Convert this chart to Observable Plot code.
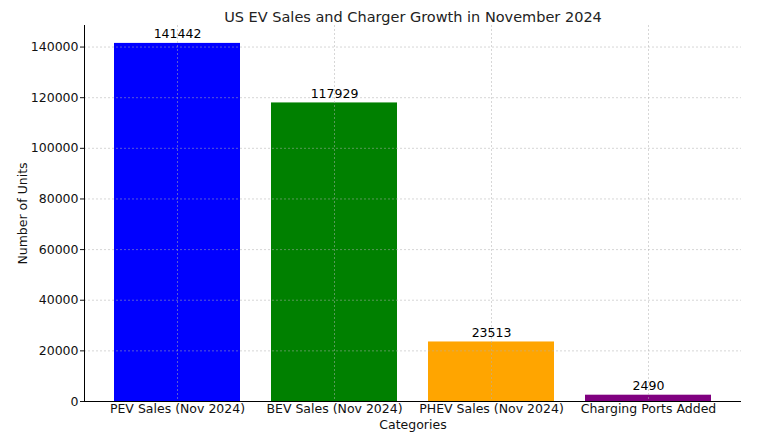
<!DOCTYPE html>
<html>
<head>
<meta charset="utf-8">
<script src="https://cdn.jsdelivr.net/npm/d3@7"></script>
<script src="https://cdn.jsdelivr.net/npm/@observablehq/plot@0.6"></script>
<style>
  html, body { margin: 0; padding: 0; background: #fff; }
  svg { font-family: "DejaVu Sans", sans-serif; }
</style>
</head>
<body>
<div id="chart"></div>
<script>
const categories = ["PEV Sales (Nov 2024)", "BEV Sales (Nov 2024)", "PHEV Sales (Nov 2024)", "Charging Ports Added"];
const values = [141442, 117929, 23513, 2490];
const colors = ["#0000ff", "#008000", "#ffa500", "#800080"];
const yTicks = [0, 20000, 40000, 60000, 80000, 100000, 120000, 140000];
const titleText = "US EV Sales and Charger Growth in November 2024";
const xLabel = "Categories";
const yLabel = "Number of Units";

const data = categories.map((c, i) => ({category: c, value: values[i], color: colors[i]}));

const chart = Plot.plot({
  width: 758,
  height: 441,
  marginLeft: 84,
  marginRight: 17,
  marginTop: 25,
  marginBottom: 40,
  style: {fontFamily: "DejaVu Sans, sans-serif", fontSize: "12.5px", color: "#111", background: "#fff"},
  x: {type: "band", domain: categories, paddingInner: 0.2, paddingOuter: 0.19, label: null},
  y: {domain: [0, 141442 * 1.05], label: null},
  marks: [
    Plot.barY(data, {x: "category", y: "value", fill: "color"}),
    Plot.gridY(yTicks, {stroke: "#b0b0b0", strokeOpacity: 0.5, strokeDasharray: "2,2"}),
    Plot.gridX(categories, {stroke: "#b0b0b0", strokeOpacity: 0.5, strokeDasharray: "2,2"}),
    Plot.ruleY([0], {stroke: "#000", strokeWidth: 1}),
    Plot.frame({anchor: "left", stroke: "#000", strokeWidth: 1}),
    Plot.axisY({ticks: yTicks, tickFormat: d => String(d), tickSize: 4, tickPadding: 2, fontSize: 12.5, label: null}),
    Plot.axisX({tickSize: 0, tickPadding: 3, fontSize: 12.5, label: null}),
    Plot.text(data, {x: "category", y: "value", text: d => String(d.value), lineAnchor: "bottom", dy: -5, fontSize: 12.5, fill: "#000"}),
    Plot.text([titleText], {frameAnchor: "top", textAnchor: "middle", dy: -14, fontSize: 14.5, fill: "#222"}),
    Plot.text([xLabel], {frameAnchor: "bottom", textAnchor: "middle", dy: 27, fontSize: 12.5, fill: "#111"}),
    Plot.text([yLabel], {frameAnchor: "left", textAnchor: "middle", dx: -62, rotate: -90, fontSize: 12.5, fill: "#111"})
  ]
});
document.getElementById("chart").appendChild(chart);
</script>
</body>
</html>
